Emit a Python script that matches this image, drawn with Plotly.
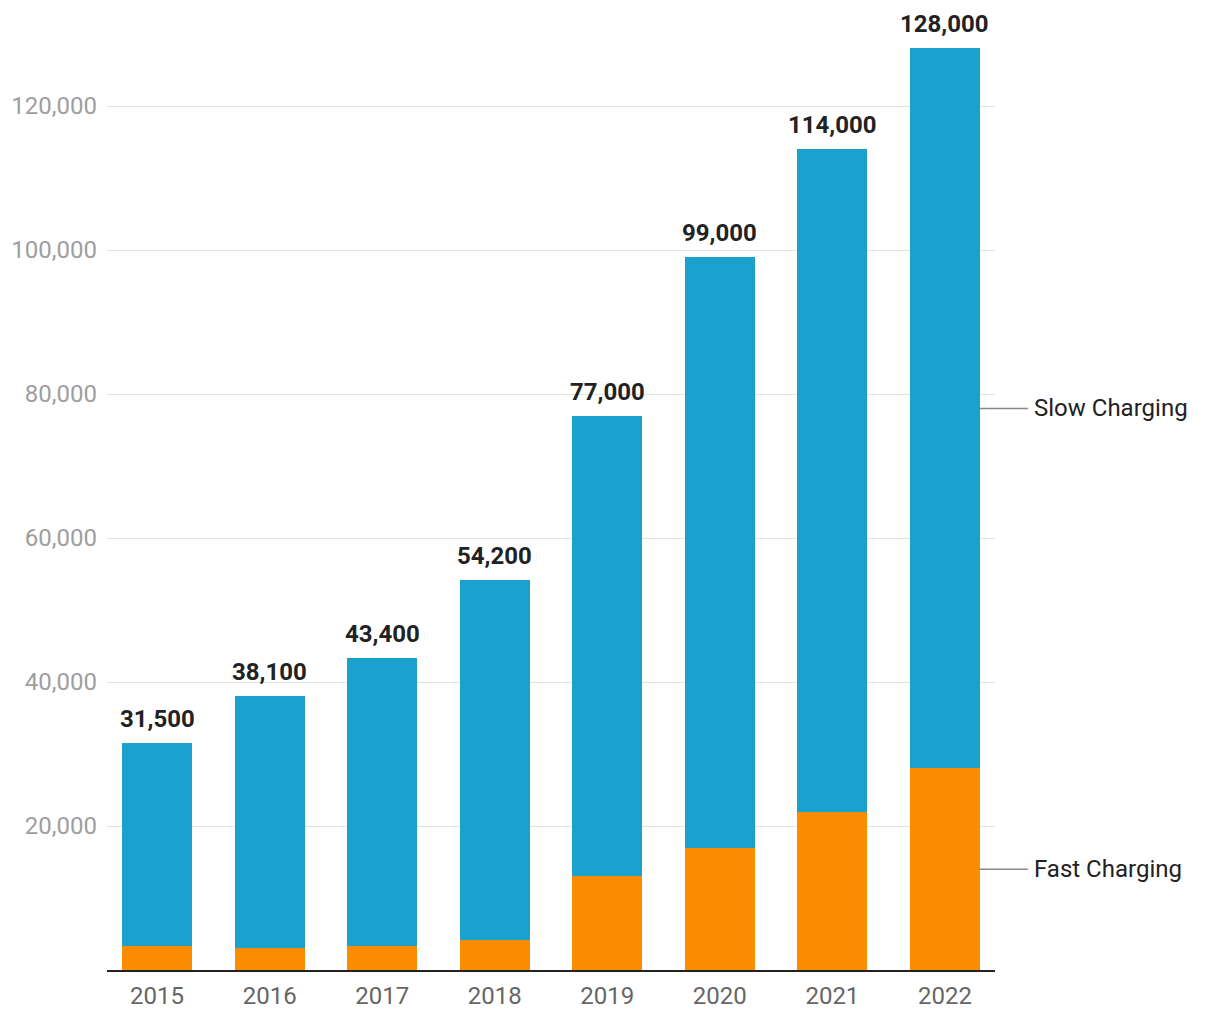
import plotly.graph_objects as go

years = ["2015", "2016", "2017", "2018", "2019", "2020", "2021", "2022"]
totals = [31500, 38100, 43400, 54200, 77000, 99000, 114000, 128000]
fast = [3400, 3000, 3300, 4200, 13000, 17000, 22000, 28000]
slow = [t - f for t, f in zip(totals, fast)]
total_labels = [f"{t:,}" for t in totals]
tick_vals = [20000, 40000, 60000, 80000, 100000, 120000]
tick_text = [f"{v:,}" for v in tick_vals]

BLUE = "#1ba1cd"
ORANGE = "#f98c00"
FONT = "Roboto"

fig = go.Figure()
fig.add_trace(go.Bar(x=years, y=fast, name="Fast Charging", marker=dict(color=ORANGE, line=dict(width=0))))
fig.add_trace(go.Bar(x=years, y=slow, name="Slow Charging", marker=dict(color=BLUE, line=dict(width=0))))

for i, (tot, lab) in enumerate(zip(totals, total_labels)):
    fig.add_annotation(x=i, y=tot, xref="x", yref="y", text=f"<b>{lab}</b>", showarrow=False,
                       yanchor="bottom", yshift=8, font=dict(family=FONT, size=24, color="#222222"))

# right-side series labels at mid-points of the last bar's segments
last_fast = fast[-1]
last_slow = slow[-1]
label_pos = [("Slow Charging", last_fast + last_slow / 2), ("Fast Charging", last_fast / 2)]
for text, yv in label_pos:
    fig.add_shape(type="line", xref="paper", yref="y", x0=0.983, x1=1.037, y0=yv, y1=yv,
                  line=dict(color="#888888", width=1.5))
    fig.add_annotation(xref="paper", yref="y", x=1.042, y=yv, text=text, showarrow=False,
                       xanchor="left", yanchor="middle", font=dict(family=FONT, size=24, color="#222222"))

fig.update_layout(
    barmode="stack",
    bargap=0.38,
    width=1220, height=1020,
    margin=dict(l=107, r=225, t=34, b=50),
    paper_bgcolor="white", plot_bgcolor="white",
    showlegend=False,
    font=dict(family=FONT),
)
fig.update_xaxes(type="category", range=[-0.445, 7.445], showline=True, linecolor="#222222", linewidth=2,
                 ticklabelstandoff=3, automargin=False,
                 tickfont=dict(family=FONT, size=24, color="#666666"), ticks="", showgrid=False)
fig.update_yaxes(range=[0, 130000], tickvals=tick_vals, ticktext=tick_text, showgrid=True,
                 gridcolor="#e3e3e3", gridwidth=1, zeroline=False, ticks="",
                 ticklabelstandoff=9, automargin=False,
                 tickfont=dict(family=FONT, size=24, color="#9e9e9e"))

fig.write_html("out.html")
